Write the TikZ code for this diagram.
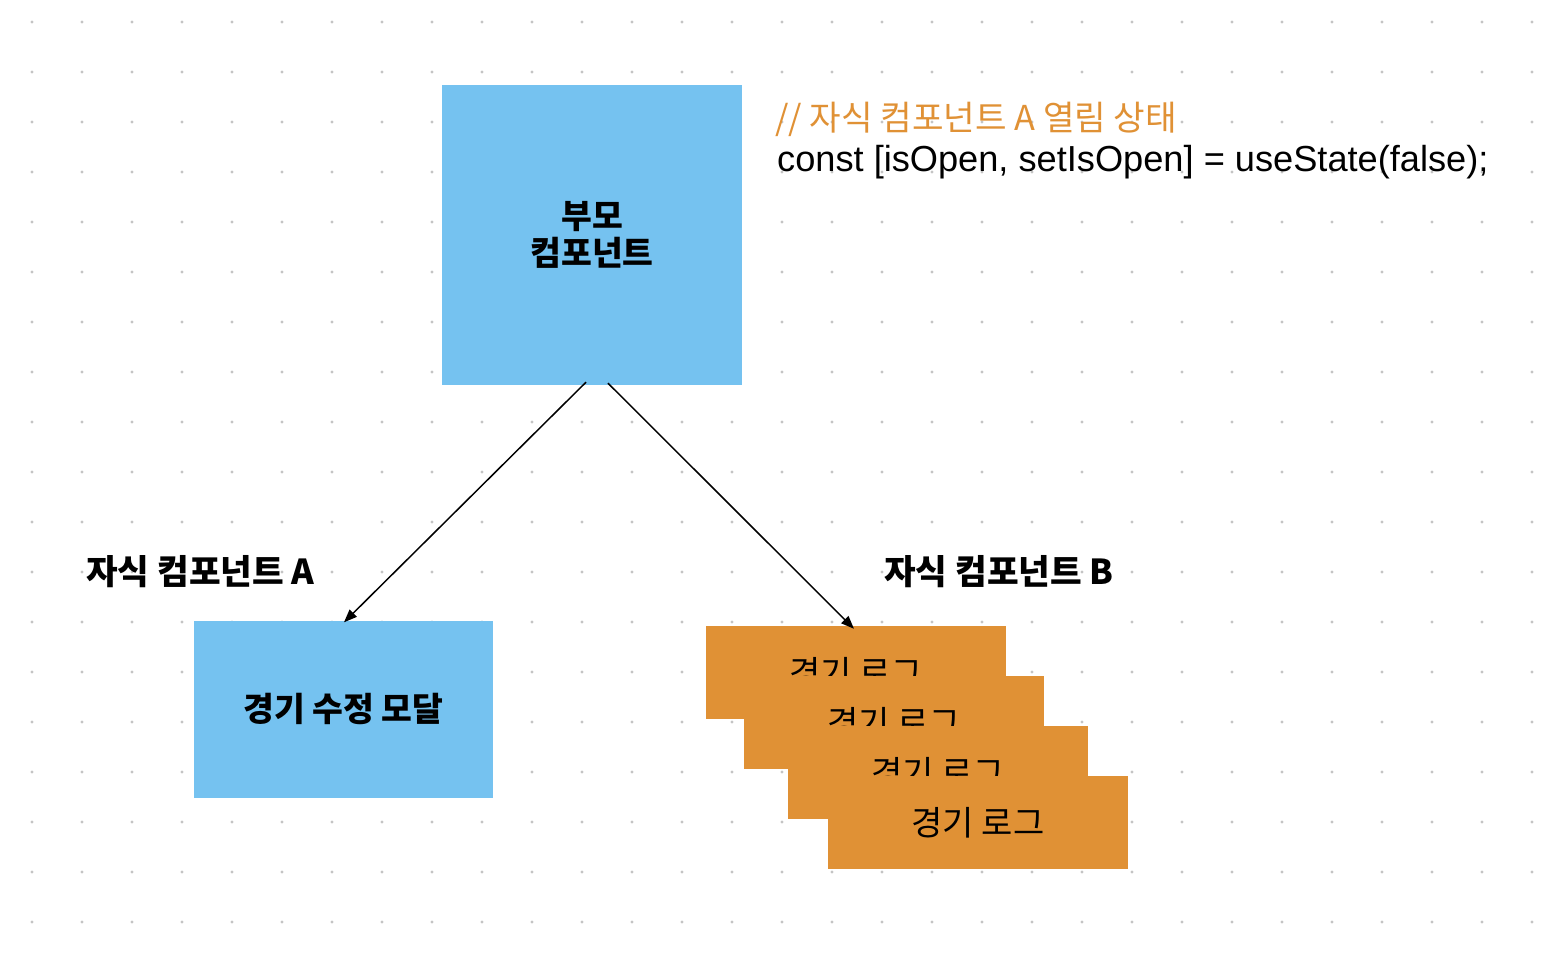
\documentclass[tikz,border=0pt]{standalone}
\usepackage{fontspec}
\setmainfont{Liberation Sans}
\newfontfamily\kr{Noto Sans CJK KR}
\usetikzlibrary{arrows.meta,calc}
\definecolor{boxblue}{HTML}{75C2F0}
\definecolor{boxorange}{HTML}{E09135}
\definecolor{dotgray}{HTML}{C4C4C4}
\tikzset{
  blockbox/.style={rectangle, fill=boxblue, draw=none, inner sep=0pt, minimum width=300pt, font=\kr\bfseries\fontsize{33.5}{37}\selectfont, align=center, text=black},
  logbox/.style={rectangle, fill=boxorange, draw=none, inner sep=0pt, minimum width=300pt, minimum height=93pt, font=\kr\fontsize{34}{40}\selectfont, text=black},
  labeltext/.style={anchor=west, inner sep=0pt, font=\kr\bfseries\fontsize{34.4}{40}\selectfont, text=black},
  conn/.style={-{Triangle[length=13pt,width=10pt]}, line width=1.5pt, black},
}
\begin{document}
\begin{tikzpicture}[x=1pt,y=-1pt]
\useasboundingbox[fill=white] (0,0) rectangle (1548,956);
% dot grid
\foreach \i in {0,...,30} {
  \foreach \j in {0,...,18} {
    \fill[dotgray] (32+50*\i, 22+50*\j) circle (1.6pt);
  }
}
% boxes
\node[blockbox, minimum height=300pt] (parent) at (592,235) {부모\\컴포넌트};
\node[blockbox, minimum height=177pt, minimum width=299pt] (childA) at (343.5,709) {경기 수정 모달};
\node[logbox] (log1) at (856,672.5) {경기 로그};
\node[logbox] (log2) at (894,722.5) {경기 로그};
\node[logbox] (log3) at (938,772.5) {경기 로그};
\node[logbox] (log4) at (978,822.5) {경기 로그};
% labels
\node[labeltext] (labelA) at (86,572) {자식 컴포넌트 A};
\node[labeltext] (labelB) at (884,572) {자식 컴포넌트 B};
\node[anchor=west, inner sep=0pt, text=boxorange, font=\kr\fontsize{34.3}{40}\selectfont] (comment) at (775,119) {// 자식 컴포넌트 A 열림 상태};
\node[anchor=west, inner sep=0pt, text=black, font=\fontsize{36.2}{42}\selectfont] (code) at (777,162) {const [isOpen, setIsOpen] = useState(false);};
% connectors
\draw[conn] ($(parent.south)+(-6,-3)$) -- ($(childA.north)+(0.5,2)$);
\draw[conn] ($(parent.south)+(16,-2)$) -- ($(log1.north)+(-2,3)$);
\end{tikzpicture}
\end{document}
